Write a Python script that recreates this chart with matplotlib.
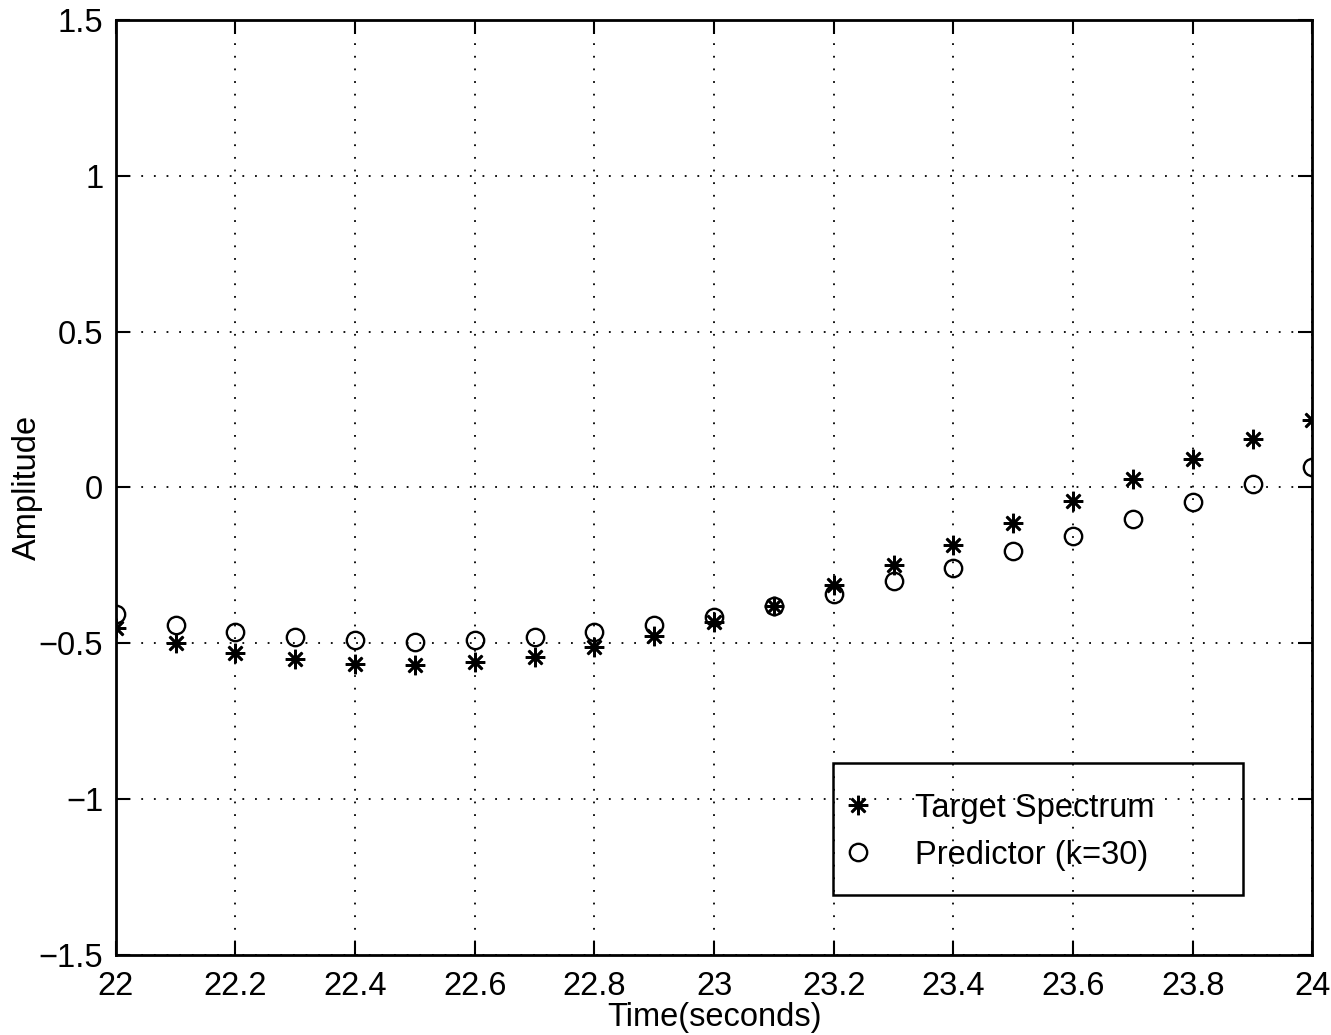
import numpy as np
import matplotlib
matplotlib.use("Agg")
from matplotlib import pyplot as plt
from matplotlib.patches import Rectangle

plt.rcParams['font.family'] = ['Liberation Sans', 'DejaVu Sans']

# time samples (seconds)
time = [22.0, 22.1, 22.2, 22.3, 22.4, 22.5, 22.6, 22.7, 22.8, 22.9, 23.0,
        23.1, 23.2, 23.3, 23.4, 23.5, 23.6, 23.7, 23.8, 23.9, 24.0]
target = [-0.45, -0.50, -0.53, -0.55, -0.567, -0.57, -0.56, -0.545, -0.513, -0.477, -0.432,
          -0.38, -0.314, -0.25, -0.183, -0.115, -0.044, 0.026, 0.09, 0.157, 0.215]
predictor = [-0.407, -0.44, -0.462, -0.48, -0.49, -0.494, -0.49, -0.48, -0.463, -0.442, -0.416,
             -0.38, -0.343, -0.30, -0.257, -0.205, -0.155, -0.10, -0.046, 0.012, 0.067]
labels = {'target': 'Target Spectrum', 'pred': 'Predictor (k=30)'}
xticks = [22, 22.2, 22.4, 22.6, 22.8, 23, 23.2, 23.4, 23.6, 23.8, 24]
xtick_labels = ['22', '22.2', '22.4', '22.6', '22.8', '23', '23.2', '23.4', '23.6', '23.8', '24']
yticks = [-1.5, -1, -0.5, 0, 0.5, 1, 1.5]
ytick_labels = ['\u22121.5', '\u22121', '\u22120.5', '0', '0.5', '1', '1.5']

fs = 23.5

fig = plt.figure(figsize=(13.31, 10.35), dpi=100)
ax = fig.add_axes([0.087, 0.077, 0.899, 0.904])

ax.plot(time, target, linestyle='none', marker=(8, 2, 0), markersize=14,
        markeredgewidth=1.9, color='black', label=labels['target'])
ax.plot(time, predictor, linestyle='none', marker='o', markersize=12.5,
        markerfacecolor='none', markeredgewidth=1.7, color='black', label=labels['pred'])

ax.set_xlim(22, 24)
ax.set_ylim(-1.5, 1.5)
ax.set_xticks(xticks)
ax.set_xticklabels(xtick_labels)
ax.set_yticks(yticks)
ax.set_yticklabels(ytick_labels)
ax.tick_params(direction='in', length=10, width=1.5, labelsize=fs, pad=9,
               top=True, right=True)
ax.tick_params(axis='x', pad=11)
for s in ax.spines.values():
    s.set_linewidth(2)
ax.grid(True, linestyle=(0, (1, 6)), color='black', linewidth=1.3)

ax.set_xlabel('Time(seconds)', fontsize=fs, labelpad=0)
ax.set_ylabel('Amplitude', fontsize=fs, labelpad=-3)

# legend box drawn separately: gridlines show through it like the original
ax.add_patch(Rectangle((0.599, 0.064), 0.343, 0.142, transform=ax.transAxes,
                       fill=False, edgecolor='black', linewidth=1.8, zorder=4))
leg = ax.legend(loc='upper left', bbox_to_anchor=(0.6095, 0.174), fontsize=fs,
                frameon=False, handlelength=0.8, handletextpad=1.35,
                borderpad=0, labelspacing=0.5, borderaxespad=0)

plt.savefig("out.png", dpi=100)
